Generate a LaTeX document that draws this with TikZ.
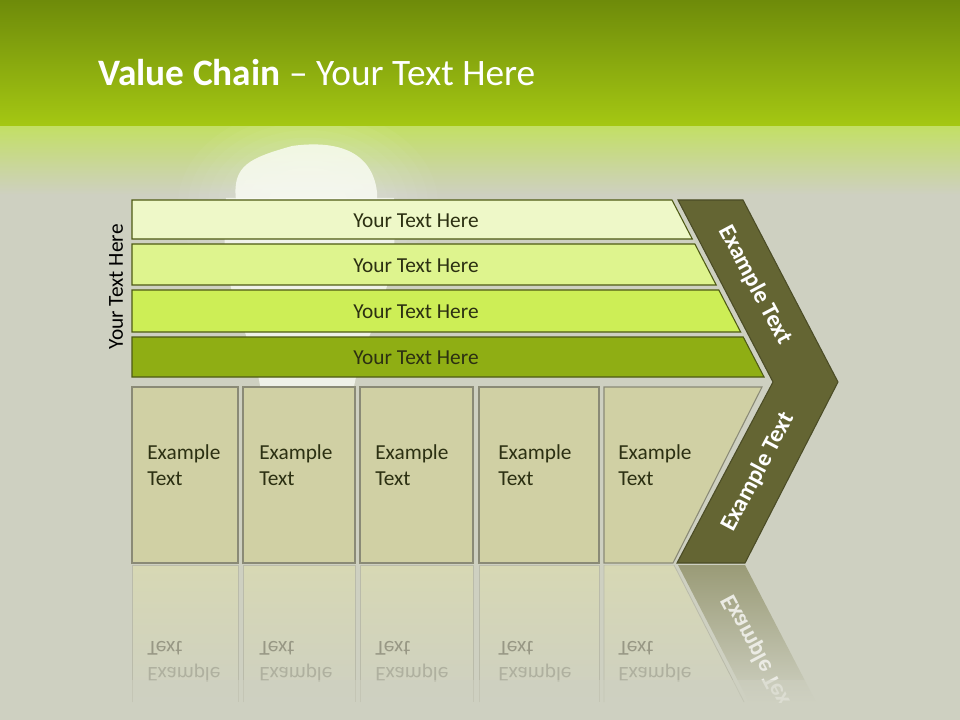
\documentclass[tikz,border=0pt]{standalone}
\usepackage{fontspec}
\setmainfont{Carlito}
\usepackage{xcolor}
\usetikzlibrary{calc}
\definecolor{VcTop}{HTML}{6E8B0A}
\definecolor{VcLime}{HTML}{A5C813}
\definecolor{VcFade}{HTML}{C3DF66}
\definecolor{VcBg}{HTML}{CED0C1}
\definecolor{VcBarA}{HTML}{EEF8C8}
\definecolor{VcBarB}{HTML}{DEF48E}
\definecolor{VcBarC}{HTML}{CDEE56}
\definecolor{VcBarD}{HTML}{8FAE14}
\definecolor{VcEdge}{HTML}{4E5A14}
\definecolor{VcChev}{HTML}{646533}
\definecolor{VcBox}{HTML}{D0D0A4}
\definecolor{VcBoxEdge}{HTML}{8A8A76}
\definecolor{VcInk}{HTML}{2C3012}
\definecolor{VcReflBox}{HTML}{D7D8B4}
\definecolor{VcReflChev}{HTML}{9A9B77}
\tikzset{
  vcbar/.style={draw=VcEdge, line width=0.8pt},
  vcbox/.style={draw=VcBoxEdge, fill=VcBox, line width=0.8pt},
  vcchev/.style={draw=VcChev!75!black, fill=VcChev, line width=0.8pt},
  vcrefl/.style={top color=VcReflBox, bottom color=VcBg},
  vcreflline/.style={draw=VcBoxEdge!30!VcBg, line width=0.6pt},
  vcbartext/.style={text=VcInk, font=\fontsize{16}{19.5}\selectfont, inner sep=0pt},
  vcboxtext/.style={text=VcInk, font=\fontsize{16}{19.5}\selectfont, align=left, inner sep=0pt, anchor=base west},
  vcchevtext/.style={text=white, font=\bfseries\fontsize{18}{21}\selectfont, inner sep=0pt},
  vcmirror/.style={font=\fontsize{16}{19.5}\selectfont, align=left, inner sep=0pt, anchor=base west, yscale=-1}
}

\begin{document}
\begin{tikzpicture}[x=0.75pt,y=-0.75pt]
  \useasboundingbox (0,0) rectangle (960,720);
  % backdrop
  \fill[VcBg] (0,0) rectangle (960,720);
  \shade[top color=VcTop, bottom color=VcLime] (0,0) rectangle (960,127);
  \shade[top color=VcFade, bottom color=VcBg] (0,127) rectangle (960,195);
  % glow behind the bars
  \begin{scope}
    \clip (0,127) rectangle (960,720);
    \foreach \r in {40,50,...,130} {
      \fill[white, opacity=0.035] (308,205) ellipse ({\r} and {\r*0.75});
    }
  \end{scope}
  \fill[white!96!VcLime, opacity=0.8] (236,200) .. controls (232,165) and (250,158) .. (292,146)
    .. controls (335,140) and (372,150) .. (377,192) -- (377,200) -- cycle;
  \fill[white!96!VcLime, opacity=0.75] (226,198) -- (394,198) .. controls (402,300) and (360,330) .. (352,400)
    -- (262,400) .. controls (255,330) and (216,300) .. (226,198) -- cycle;

  \node[anchor=base west, text=white, font=\fontsize{28}{34}\selectfont, inner sep=0pt] (title) at (98,86)
    {\textbf{Value Chain} – Your Text Here};

  % bars
  \foreach \i/\ya/\yb/\col in {1/200/239/VcBarA, 2/244/285/VcBarB, 3/290/332/VcBarC, 4/337/377/VcBarD} {
    \draw[vcbar, fill=\col] (132,\ya) -- ({672+0.52*(\ya-200)},\ya) -- ({672+0.52*(\yb-200)},\yb) -- (132,\yb) -- cycle;
    \node[vcbartext] (bar\i) at (416,{(\ya+\yb)/2+1}) {Your Text Here};
  }
  \node[vcbartext, text=black, rotate=90] (side) at (116,287) {Your Text Here};

  % chevron
  \draw[vcchev] (678,200) -- (743,200) -- (838,382) -- (745,563) -- (677,563) -- (773,382) -- cycle;
  \node[vcchevtext, rotate=-62] (chevup) at (755,285) {Example Text};
  \node[vcchevtext, rotate=62] (chevdown) at (758,472) {Example Text};

  % boxes
  \foreach \n/\l/\r/\tx in {1/132/238/147, 2/243/355/259, 3/360/473/375, 4/479/599/498} {
    \draw[vcbox] (\l,387) rectangle (\r,563);
    \node[vcboxtext] (box\n) at (\tx,485) {Example\\Text};
  }
  \draw[vcbox] (604,387) -- (762,387) -- (673,563) -- (604,563) -- cycle;
  \node[vcboxtext] (box5) at (618,485) {Example\\Text};

  % reflection
  \begin{scope}
    \clip (0,565) rectangle (960,702);
    \foreach \l/\r in {132/238, 243/355, 360/473, 479/599} {
      \shade[vcrefl] (\l,565) rectangle (\r,702);
      \draw[vcreflline] (\l,702) -- (\l,565) -- (\r,565) -- (\r,702);
    }
    \shade[vcrefl] (604,565) -- (674,565) -- (744,702) -- (604,702) -- cycle;
    \draw[vcreflline] (604,702) -- (604,565) -- (674,565) -- (744,702);
    \shade[top color=VcReflChev, bottom color=VcBg] (678,565) -- (745,565) -- (816,702) -- (749,702) -- cycle;
    \foreach \n/\tx in {1/147, 2/259, 3/375, 4/498, 5/618} {
      \node[vcmirror] (mirror\n) at (\tx,641) {\textcolor{VcBoxEdge!45!VcBg}{Example}\\\textcolor{VcBoxEdge!80!VcBg}{Text}};
    }
    \node[vcchevtext, text=white!80!VcReflChev, rotate=-62, yscale=-1] (chevmirror) at (758,654) {Example Text};
  \end{scope}
  % soften the lower end of the reflection
  \shade[top color=VcBg, bottom color=VcBg, middle color=VcBg, opacity=0.5] (0,680) rectangle (960,702);
\end{tikzpicture}
\end{document}
